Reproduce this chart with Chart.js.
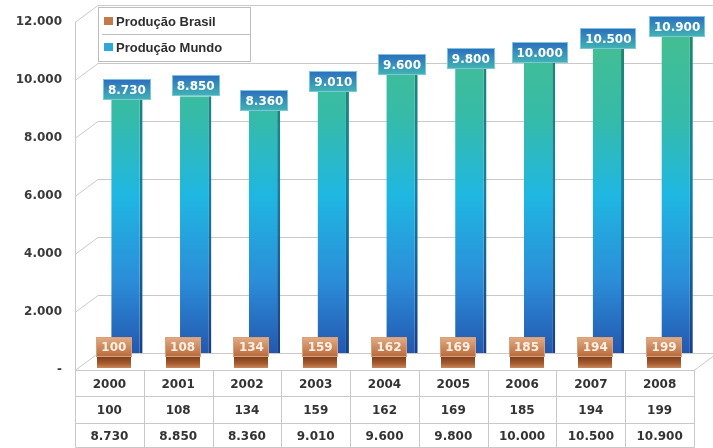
<!DOCTYPE html>
<html>
<head>
<meta charset="utf-8">
<script src="https://cdn.jsdelivr.net/npm/chart.js@4.4.1/dist/chart.umd.min.js"></script>
<style>
  html, body { margin: 0; padding: 0; background: #fff; }
  #wrap { width: 713px; height: 448px; position: relative; }
</style>
</head>
<body>
<div id="wrap"><canvas id="chart"></canvas></div>
<script>
// data
const years = ['2000', '2001', '2002', '2003', '2004', '2005', '2006', '2007', '2008'];
const producaoBrasil = [100, 108, 134, 159, 162, 169, 185, 194, 199];
const producaoMundo = [8730, 8850, 8360, 9010, 9600, 9800, 10000, 10500, 10900];
const yMax = 12000;
const yStep = 2000;

// 3d look: chart area sits mid-depth, back wall a bit right, front edge left+down
const BACK_X = 12, FRONT_X = -11, DEPTH_Y = 17;
const FONT = 'DejaVu Sans';
const GRID = '#c9c9c9';

const fmt = v => v === 0 ? '-' : String(v).replace(/\B(?=(\d{3})+(?!\d))/g, '.');

let mundoFill = null, mundoSide = null;
function mundoGradient(ctx, side) {
  const area = ctx.chart.chartArea;
  if (!area) return side ? '#1b5f8c' : '#2aa6d8';
  if (!mundoFill) {
    const c = ctx.chart.ctx;
    mundoFill = c.createLinearGradient(0, area.top + 20, 0, area.bottom);
    mundoFill.addColorStop(0, '#46bf8f');
    mundoFill.addColorStop(0.28, '#36bba8');
    mundoFill.addColorStop(0.52, '#1fb7e2');
    mundoFill.addColorStop(0.78, '#2b8dd8');
    mundoFill.addColorStop(1, '#2358b0');
    mundoSide = c.createLinearGradient(0, area.top + 20, 0, area.bottom);
    mundoSide.addColorStop(0, '#1d8a66');
    mundoSide.addColorStop(0.5, '#127fa6');
    mundoSide.addColorStop(1, '#173f86');
  }
  return side ? mundoSide : mundoFill;
}

function box(ctx, cx, bottom, text, w, h, top, bot, border, color) {
  const x = Math.round(cx - w / 2), y = Math.round(bottom - h);
  const g = ctx.createLinearGradient(0, y, 0, y + h);
  g.addColorStop(0, top);
  g.addColorStop(1, bot);
  ctx.fillStyle = g;
  ctx.fillRect(x, y, w, h);
  ctx.strokeStyle = border;
  ctx.lineWidth = 1;
  ctx.strokeRect(x + 0.5, y + 0.5, w - 1, h - 1);
  ctx.fillStyle = color;
  ctx.textAlign = 'center';
  ctx.textBaseline = 'middle';
  ctx.fillText(text, cx, y + h / 2 + 1);
}

const walls = {
  id: 'walls',
  beforeDatasetsDraw(chart) {
    const { ctx, chartArea: a, scales: { x, y } } = chart;
    const y0 = y.getPixelForValue(0);
    ctx.save();
    ctx.strokeStyle = GRID;
    ctx.lineWidth = 1;
    y.ticks.forEach(t => {
      const yb = Math.round(y.getPixelForValue(t.value)) + 0.5;
      ctx.beginPath();
      ctx.moveTo(a.left + BACK_X, yb);
      ctx.lineTo(chart.width, yb);
      ctx.moveTo(a.left + FRONT_X, yb + DEPTH_Y);
      ctx.lineTo(a.left + BACK_X, yb);
      ctx.stroke();
    });
    // floor front edge + right side
    const yf = Math.round(y0) + DEPTH_Y + 0.5;
    ctx.beginPath();
    ctx.moveTo(a.left + FRONT_X, yf);
    ctx.lineTo(a.right + FRONT_X, yf);
    ctx.lineTo(a.right + BACK_X, yf - DEPTH_Y);
    ctx.stroke();

    // data table
    const half = (x.getPixelForValue(1) - x.getPixelForValue(0)) / 2;
    const rows = [26, 27, 24];
    const rowVals = [years, chart.data.datasets[0].data, chart.data.datasets[1].data];
    const left = Math.round(x.getPixelForValue(0) - half + FRONT_X) + 0.5;
    const right = Math.round(x.getPixelForValue(years.length - 1) + half + FRONT_X) + 0.5;
    let ry = yf;
    const rowEdges = [ry];
    rows.forEach(h => { ry += h; rowEdges.push(ry); });
    ctx.beginPath();
    rowEdges.forEach(e => { ctx.moveTo(left, e); ctx.lineTo(right, e); });
    ctx.moveTo(left, Math.round(y.getPixelForValue(yMax)) + DEPTH_Y);
    ctx.lineTo(left, ry);
    for (let i = 1; i <= years.length; i++) {
      const bx = Math.round(x.getPixelForValue(i - 1) + half + FRONT_X) + 0.5;
      ctx.moveTo(bx, yf);
      ctx.lineTo(bx, ry);
    }
    ctx.stroke();
    ctx.fillStyle = '#333';
    ctx.font = 'bold 12px "' + FONT + '"';
    ctx.textAlign = 'center';
    ctx.textBaseline = 'middle';
    rowVals.forEach((vals, r) => {
      const cy = (rowEdges[r] + rowEdges[r + 1]) / 2 + 1;
      vals.forEach((v, i) => {
        ctx.fillText(r === 0 ? v : fmt(v), x.getPixelForValue(i) + FRONT_X, cy);
      });
    });
    ctx.restore();
  },
  afterDatasetsDraw(chart) {
    const { ctx } = chart;
    ctx.save();
    ctx.font = 'bold 12px "' + FONT + '"';
    chart.getDatasetMeta(1).data.forEach((bar, i) => {
      const t = fmt(chart.data.datasets[1].data[i]);
      const w = Math.round(ctx.measureText(t).width) + 10;
      box(ctx, bar.x, bar.y, t, w, 21, '#2c6cc0', '#41b5b3', '#7cc6d8', '#ffffff');
    });
    // brasil: small bars sit on the front of the floor, label box on a pedestal
    chart.getDatasetMeta(0).data.forEach((bar, i) => {
      const t = fmt(chart.data.datasets[0].data[i]);
      const bottom = bar.base + 4;
      const px = Math.round(bar.x - 17);
      const g = ctx.createLinearGradient(0, bottom, 0, bottom + 11);
      g.addColorStop(0, '#7e3f1c');
      g.addColorStop(0.6, '#a85c30');
      g.addColorStop(1, '#c98a5e');
      ctx.fillStyle = g;
      ctx.fillRect(px, Math.round(bottom), 34, 11);
      box(ctx, bar.x, bottom, t, 36, 20, '#e2ad86', '#b8693a', '#d9a07a', '#fdf0e4');
    });
    ctx.restore();
  },
  afterDraw(chart) {
    const { ctx, chartArea: a } = chart;
    const lx = a.left + BACK_X, ly = a.top + 2, lw = 152, lh = 54;
    ctx.save();
    ctx.fillStyle = '#fff';
    ctx.fillRect(lx, ly, lw, lh);
    ctx.strokeStyle = '#bdbdbd';
    ctx.strokeRect(lx + 0.5, ly + 0.5, lw, lh);
    ctx.beginPath();
    ctx.moveTo(lx + 4, ly + 27.5);
    ctx.lineTo(lx + lw, ly + 27.5);
    ctx.stroke();
    ctx.font = 'bold 13px "Liberation Sans"';
    ctx.textBaseline = 'middle';
    ctx.textAlign = 'left';
    chart.data.datasets.forEach((ds, i) => {
      const cy = ly + 14 + i * 26;
      ctx.fillStyle = ds.legendColor;
      ctx.fillRect(lx + 6, cy - 4, 9, 8);
      ctx.fillStyle = '#2e2e2e';
      ctx.fillText(ds.label, lx + 18, cy + 1);
    });
    ctx.restore();
  }
};

new Chart(document.getElementById('chart'), {
  type: 'bar',
  data: {
    labels: years,
    datasets: [
      {
        label: 'Produção Brasil',
        data: producaoBrasil,
        backgroundColor: '#b4683a',
        legendColor: '#c27a4a',
        barPercentage: 2.6,
        categoryPercentage: 0.38,
        order: 0
      },
      {
        label: 'Produção Mundo',
        data: producaoMundo,
        backgroundColor: ctx => mundoGradient(ctx, false),
        borderColor: ctx => mundoGradient(ctx, true),
        borderWidth: { left: 0, right: 3, top: 0, bottom: 0 },
        borderSkipped: false,
        legendColor: '#2fa8d8',
        barPercentage: 2.4,
        categoryPercentage: 0.38,
        order: 1
      }
    ]
  },
  options: {
    responsive: true,
    maintainAspectRatio: false,
    animation: false,
    layout: { padding: { top: 5, right: 8, bottom: 95, left: 0 } },
    plugins: {
      legend: { display: false },
      tooltip: { enabled: false }
    },
    scales: {
      x: { display: false },
      y: {
        min: 0,
        max: yMax,
        border: { display: false },
        grid: { display: false, drawTicks: false },
        ticks: {
          stepSize: yStep,
          padding: 24,
          labelOffset: DEPTH_Y,
          color: '#3a3a3a',
          font: { family: FONT, size: 12, weight: 'bold' },
          callback: v => fmt(v)
        },
        afterFit(scale) {
          scale.width = 86;
          scale.paddingTop = 0;
          scale.paddingBottom = 0;
        }
      }
    }
  },
  plugins: [walls]
});
</script>
</body>
</html>
